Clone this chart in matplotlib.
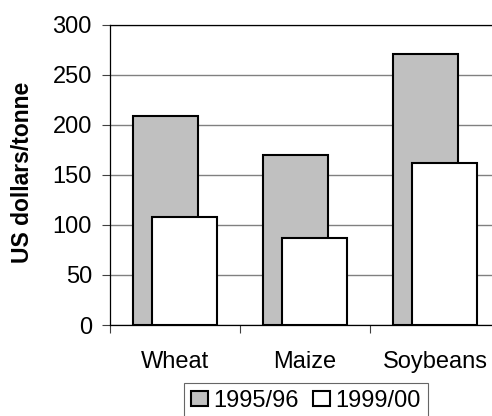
import matplotlib
matplotlib.use('Agg')
import matplotlib.pyplot as plt
import numpy as np

crops = ['Wheat', 'Maize', 'Soybeans']
price_9596 = [209, 170, 271]
price_9900 = [108, 87, 162]
series_names = ['1995/96', '1999/00']
y_ticks = [0, 50, 100, 150, 200, 250, 300]


def main():
    plt.rcParams['font.family'] = ['Liberation Sans', 'DejaVu Sans']

    fig = plt.figure(figsize=(4.92, 4.16), dpi=100)
    # plot area runs a bit past the right edge of the picture
    ax = fig.add_axes([110 / 492, 91 / 416, 390 / 492, 300.5 / 416])

    x = np.arange(len(crops))
    width = 0.5
    shift = 0.0725

    ax.bar(x - shift, price_9596, width, color='#c0c0c0', edgecolor='black',
           linewidth=1.5, label=series_names[0], zorder=2)
    ax.bar(x + shift, price_9900, width, color='white', edgecolor='black',
           linewidth=1.5, label=series_names[1], zorder=3)

    ax.set_xlim(-0.5, 2.5)
    ax.set_ylim(0, 300)
    ax.set_yticks(y_ticks)
    ax.yaxis.grid(True, color='#808080', linewidth=1.0, zorder=0)
    ax.set_axisbelow(True)

    # category boundaries get the tick marks, names sit in between
    ax.set_xticks([-0.5, 0.5, 1.5, 2.5])
    ax.set_xticklabels([])
    ax.set_xticks(x, minor=True)
    ax.set_xticklabels(crops, minor=True)
    ax.tick_params(axis='x', which='major', direction='out', length=6,
                   width=0.8, color='#404040')
    ax.tick_params(axis='x', which='minor', length=0, pad=19, labelsize=17)
    ax.tick_params(axis='y', direction='out', length=6, width=0.8,
                   color='#404040', pad=7, labelsize=17)

    for side in ['left', 'bottom', 'top']:
        ax.spines[side].set_color('black')
        ax.spines[side].set_linewidth(0.9)
    ax.spines['right'].set_visible(False)

    fig.text(23 / 492, 1 - 172 / 416, 'US dollars/tonne', rotation=90,
             ha='center', va='center', fontsize=16.5, fontweight='bold')

    leg = fig.legend(loc='upper center', bbox_to_anchor=(306 / 492, 1 - 382.7 / 416),
                     ncol=2, fontsize=17, frameon=True, fancybox=False,
                     borderaxespad=0, borderpad=0.3, handlelength=0.7,
                     handleheight=0.65, handletextpad=0.25, columnspacing=0.6)
    leg.get_frame().set_edgecolor('#404040')
    leg.get_frame().set_linewidth(0.8)

    fig.savefig('out.png', dpi=100)


if __name__ == "__main__":
    main()
